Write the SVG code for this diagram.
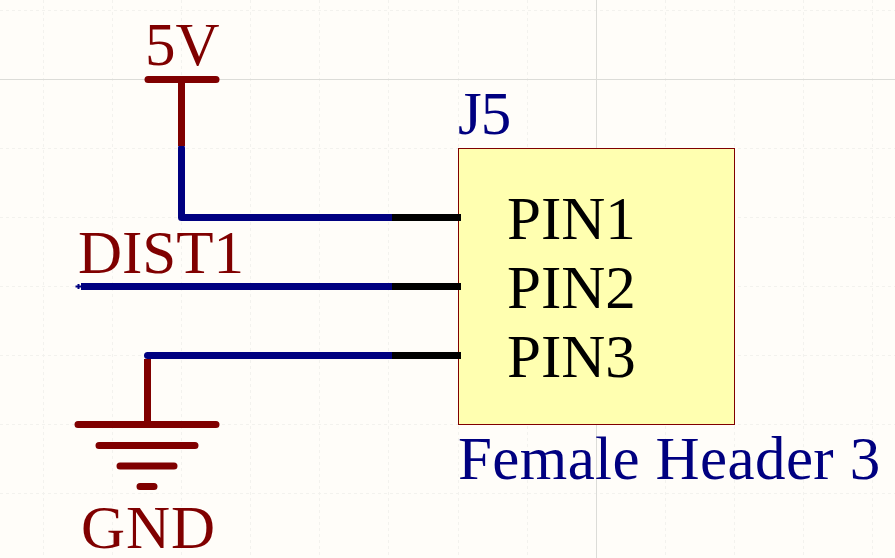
<svg xmlns="http://www.w3.org/2000/svg" width="895" height="558" viewBox="0 0 895 558">
<style>
.grid{stroke:#f3f2ee;stroke-width:1;stroke-dasharray:3 3;fill:none}
.axis{stroke:#dcdcd8;stroke-width:1;fill:none}
.wire{stroke:#000080;stroke-width:7;fill:none;stroke-linecap:round;stroke-linejoin:round}
.pow{stroke:#800000;stroke-width:7;fill:none;stroke-linecap:round}
.pin{stroke:#000;stroke-width:7;fill:none}
text{font-family:"Liberation Serif","Times New Roman",serif;font-size:61px;font-kerning:none}
.net{fill:#800000}.des{fill:#000080}.pn{fill:#000}
</style>
<rect width="895" height="558" fill="#fffdf9"/>
<g id="grid">
<path class="grid" d="M0 10.500H895M0 148.500H895M0 217.500H895M0 286.500H895M0 355.500H895M0 424.500H895M0 493.500H895"/>
<path class="grid" d="M43.500 0V558M112.500 0V558M181.500 0V558M250.500 0V558M319.500 0V558M388.500 0V558M458.500 0V558M527.500 0V558M665.500 0V558M734.500 0V558M803.500 0V558M872.500 0V558"/>
<path class="axis" d="M0 79.500H895M596.500 0V558"/>
</g>
<g id="connectors">
<path class="wire" d="M181.500 148V217.500H392"/>
<path class="wire" style="stroke-linecap:butt" d="M81 286.500H392"/>
<path class="wire" d="M147.500 355.500H392"/>
</g>
<g id="power-5v">
<path class="pow" d="M148 79.500H216"/>
<path class="pow" style="stroke-linecap:butt" d="M181.500 79.500V146"/>
<text class="net" x="145" y="65">5V</text>
</g>
<g id="net-dist1">
<text class="net" x="78" y="272.500">DIST1</text>
<path d="M75.500 286.500H81M78.500 284V289" stroke="#000080" stroke-width="2" fill="none"/>
</g>
<g id="power-gnd">
<path class="pow" style="stroke-linecap:butt" d="M147.500 359V424"/>
<path class="pow" d="M78 424.500H216M99 445.500H195M120 466H174M140 486.500H154"/>
<text class="net" x="81" y="548" letter-spacing="1">GND</text>
</g>
<g id="J5">
<rect x="458.500" y="148.500" width="276" height="276" fill="#ffffb0" stroke="#800000" stroke-width="1"/>
<path class="pin" d="M392 217.500H461M392 286.500H461M392 355.500H461"/>
<text class="des" x="458" y="134" letter-spacing="-1">J5</text>
<text class="pn" x="507" y="239">PIN1</text>
<text class="pn" x="507" y="308">PIN2</text>
<text class="pn" x="507" y="377">PIN3</text>
<text class="des" x="458" y="479" letter-spacing="0.4">Female Header 3</text>
</g>
</svg>
